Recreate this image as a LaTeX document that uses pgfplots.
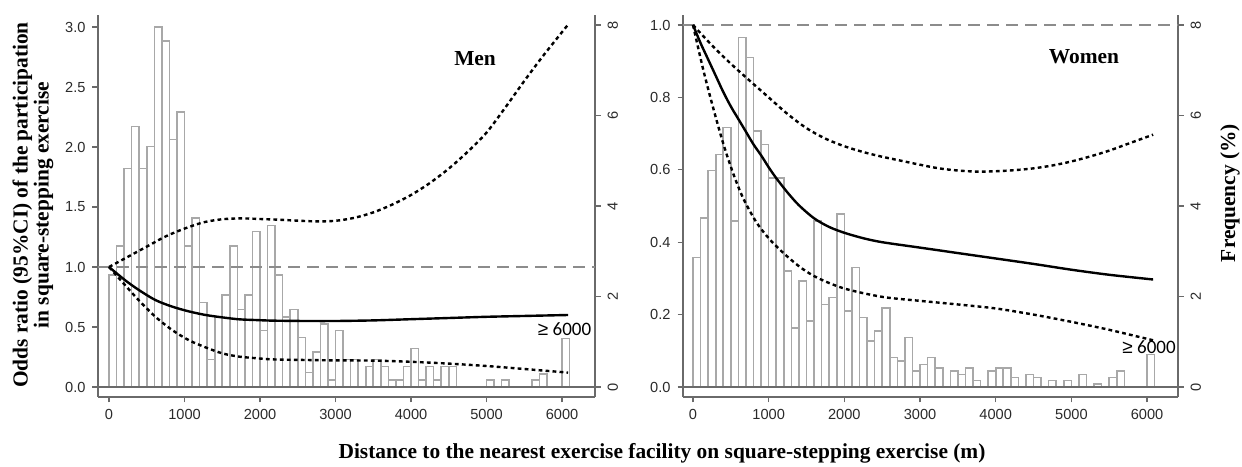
\documentclass[border=0pt]{standalone}
\usepackage{pgfplots}
\usepackage{pgfplotstable}
\pgfplotsset{compat=1.18}
\usepackage{fontspec}
\setmainfont{Liberation Serif}
\newfontfamily\arialfont{Liberation Sans}
\newfontfamily\califont{Carlito}

\definecolor{axisgray}{HTML}{6A6A6A}
\definecolor{bargray}{HTML}{A8A8A8}
\definecolor{refgray}{HTML}{8C8C8C}
\definecolor{ticktext}{HTML}{2A2A2A}

% frequency (%) per 100 m bin, bin centres
\pgfplotstableread{
x f
50 2.48
150 3.12
250 4.83
350 5.76
450 4.83
550 5.31
650 7.95
750 7.65
850 5.47
950 6.08
1050 3.12
1150 3.73
1250 1.87
1350 0.61
1450 1.55
1550 2.03
1650 3.12
1750 1.71
1850 2.03
1950 3.44
2050 1.25
2150 3.57
2250 2.48
2350 1.55
2450 1.71
2550 1.09
2650 0.32
2750 0.77
2850 1.39
2950 0.16
3050 1.25
3150 0.61
3250 0.61
3450 0.45
3550 0.61
3650 0.45
3750 0.16
3850 0.16
3950 0.45
4050 0.85
4150 0.16
4250 0.45
4350 0.16
4450 0.45
4550 0.45
5050 0.16
5250 0.16
5650 0.16
5750 0.29
6050 1.07
}\menfreq

\pgfplotstableread{
x f
50 2.86
150 3.74
250 4.78
350 5.14
450 5.73
550 3.67
650 7.72
750 7.28
850 5.66
950 5.36
1050 4.62
1150 4.62
1250 2.56
1350 1.31
1450 2.34
1550 1.46
1650 3.67
1750 1.82
1850 1.98
1950 3.82
2050 1.68
2150 2.64
2250 1.54
2350 1.02
2450 1.24
2550 1.75
2650 0.65
2750 0.58
2850 1.09
2950 0.35
3050 0.50
3150 0.65
3250 0.42
3450 0.35
3550 0.28
3650 0.42
3750 0.14
3950 0.35
4050 0.42
4150 0.42
4250 0.21
4450 0.28
4550 0.21
4750 0.14
4950 0.14
5150 0.28
5350 0.07
5550 0.21
5650 0.35
6050 0.72
}\womenfreq

\pgfplotsset{
  /pgf/number format/1000 sep={},
  panel/.style={
    scale only axis, height=191pt, clip=false,
    tick align=outside, major tick length=2.75pt,
    every tick/.style={draw=axisgray, line width=0.6pt},
    axis line style={draw=axisgray, line width=0.6pt},
    ticklabel style={font=\arialfont\fontsize{7.3}{8.5}\selectfont, text=ticktext},
    /pgf/number format/assume math mode=true,
    scaled ticks=false,
  },
  barpanel/.style={panel,
    axis x line*=bottom, axis y line*=right,
    ymin=-0.221, ymax=8.22, ytick={0,2,4,6,8},
    yticklabel style={rotate=90, anchor=north},
    xtick={0,1000,...,6000},
    ybar, bar width=100, bar shift=0pt,
  },
  curvepanel/.style={panel,
    hide x axis, axis y line*=left,
    yticklabel style={/pgf/number format/.cd, fixed, fixed zerofill, precision=1},
  },
  bars/.style={draw=bargray, fill=white, line width=0.8pt},
  est/.style={black, line width=1.2pt, smooth},
  ci/.style={black, line width=1.2pt, smooth, dash pattern=on 1.9pt off 1.6pt},
  ref/.style={refgray, line width=0.75pt, dash pattern=on 6pt off 3.5pt},
  base/.style={axisgray, line width=1pt},
}
\tikzset{
  paneltitle/.style={font=\bfseries\fontsize{10.7}{12}\selectfont},
  capnote/.style={font=\califont\fontsize{9.5}{11}\selectfont, text=black},
}

\begin{document}
\begin{tikzpicture}
\path[use as bounding box] (0,0) rectangle (621pt,233pt);

% ---- Men ----
\begin{axis}[barpanel, at={(49pt,34.5pt)}, anchor=south west, width=248.5pt,
  xmin=-146, xmax=6437]
  \addplot[bars] table[x=x, y=f] {\menfreq};
\end{axis}
\begin{axis}[curvepanel, at={(49pt,34.5pt)}, anchor=south west, width=248.5pt,
  xmin=-146, xmax=6437, ymin=-0.0833, ymax=3.1, ytick={0,0.5,...,3.0}]
  \addplot[base] coordinates {(-146,0) (6437,0)};
  \addplot[ref] coordinates {(-146,1) (6437,1)};
  \addplot[est] coordinates {(0,1.0) (213,0.89) (391,0.81) (613,0.725) (836,0.67)
    (1058,0.63) (1280,0.60) (1502,0.58) (1724,0.564) (1947,0.558) (2169,0.553)
    (2613,0.55) (3000,0.55) (3500,0.555) (4000,0.565) (4500,0.575) (5000,0.585)
    (5500,0.592) (6080,0.60)};
  \addplot[ci] coordinates {(0,1.0) (250,1.085) (500,1.17) (750,1.255) (1000,1.32)
    (1250,1.372) (1500,1.398) (1750,1.405) (2000,1.40) (2250,1.394) (2500,1.386)
    (2750,1.38) (3000,1.385) (3250,1.41) (3500,1.455) (3750,1.52) (4000,1.60)
    (4250,1.70) (4500,1.82) (4750,1.96) (5000,2.12) (5250,2.33) (5500,2.55)
    (5750,2.76) (6080,3.02)};
  \addplot[ci] coordinates {(0,1.0) (169,0.88) (391,0.725) (613,0.586) (836,0.475)
    (1058,0.39) (1280,0.33) (1502,0.28) (1724,0.253) (1947,0.24) (2169,0.23)
    (2613,0.225) (3000,0.222) (3500,0.22) (4000,0.21) (4500,0.195) (5000,0.175)
    (5500,0.15) (6080,0.12)};
  \node[paneltitle] at (axis cs:4848,2.74) {Men};
  \node[capnote] at (axis cs:6033,0.483) {{\arialfont ≥} 6000};
\end{axis}

% ---- Women ----
\begin{axis}[barpanel, at={(341.5pt,34.5pt)}, anchor=south west, width=247.5pt,
  xmin=-132, xmax=6409]
  \addplot[bars] table[x=x, y=f] {\womenfreq};
\end{axis}
\begin{axis}[curvepanel, at={(341.5pt,34.5pt)}, anchor=south west, width=247.5pt,
  xmin=-132, xmax=6409, ymin=-0.0276, ymax=1.0276, ytick={0,0.2,...,1.0}]
  \addplot[base] coordinates {(-132,0) (6409,0)};
  \addplot[ref] coordinates {(-132,1) (6409,1)};
  \addplot[est] coordinates {(0,1.0) (100,0.95) (200,0.905) (300,0.86) (400,0.815)
    (500,0.775) (600,0.74) (700,0.705) (800,0.67) (900,0.64) (1000,0.607)
    (1100,0.577) (1250,0.537) (1400,0.502) (1600,0.466) (1800,0.442) (2000,0.426)
    (2250,0.411) (2500,0.40) (3000,0.385) (3500,0.37) (4000,0.355) (4500,0.34)
    (5000,0.324) (5500,0.31) (6080,0.297)};
  \addplot[ci] coordinates {(0,1.0) (250,0.944) (500,0.893) (750,0.846) (1000,0.80)
    (1250,0.754) (1500,0.715) (1750,0.686) (2000,0.665) (2250,0.649) (2500,0.636)
    (2750,0.625) (3000,0.614) (3250,0.604) (3500,0.598) (3750,0.595) (4000,0.596)
    (4250,0.599) (4500,0.604) (4750,0.612) (5000,0.623) (5250,0.637) (5500,0.653)
    (5750,0.672) (6080,0.697)};
  \addplot[ci] coordinates {(0,1.0) (136,0.876) (268,0.77) (399,0.673) (531,0.59)
    (662,0.522) (838,0.455) (1013,0.408) (1211,0.367) (1430,0.329) (1650,0.301)
    (2000,0.272) (2500,0.249) (3000,0.238) (3500,0.228) (4000,0.217) (4500,0.2)
    (5000,0.18) (5500,0.158) (6080,0.129)};
  \node[paneltitle] at (axis cs:5167,0.913) {Women};
  \node[capnote] at (axis cs:6026,0.11) {{\arialfont ≥} 6000};
\end{axis}

% shared labels
\node[rotate=90, align=center, font=\bfseries\fontsize{10.7}{10.5}\selectfont]
  at (16.5pt,130.5pt) {Odds ratio (95\%CI) of the participation\\in square-stepping exercise};
\node[rotate=90, font=\bfseries\fontsize{10.7}{12}\selectfont]
  at (615pt,136.5pt) {Frequency (\%)};
\node[font=\bfseries\fontsize{10.7}{12}\selectfont]
  at (331pt,6.5pt) {Distance to the nearest exercise facility on square-stepping exercise (m)};
\end{tikzpicture}
\end{document}
